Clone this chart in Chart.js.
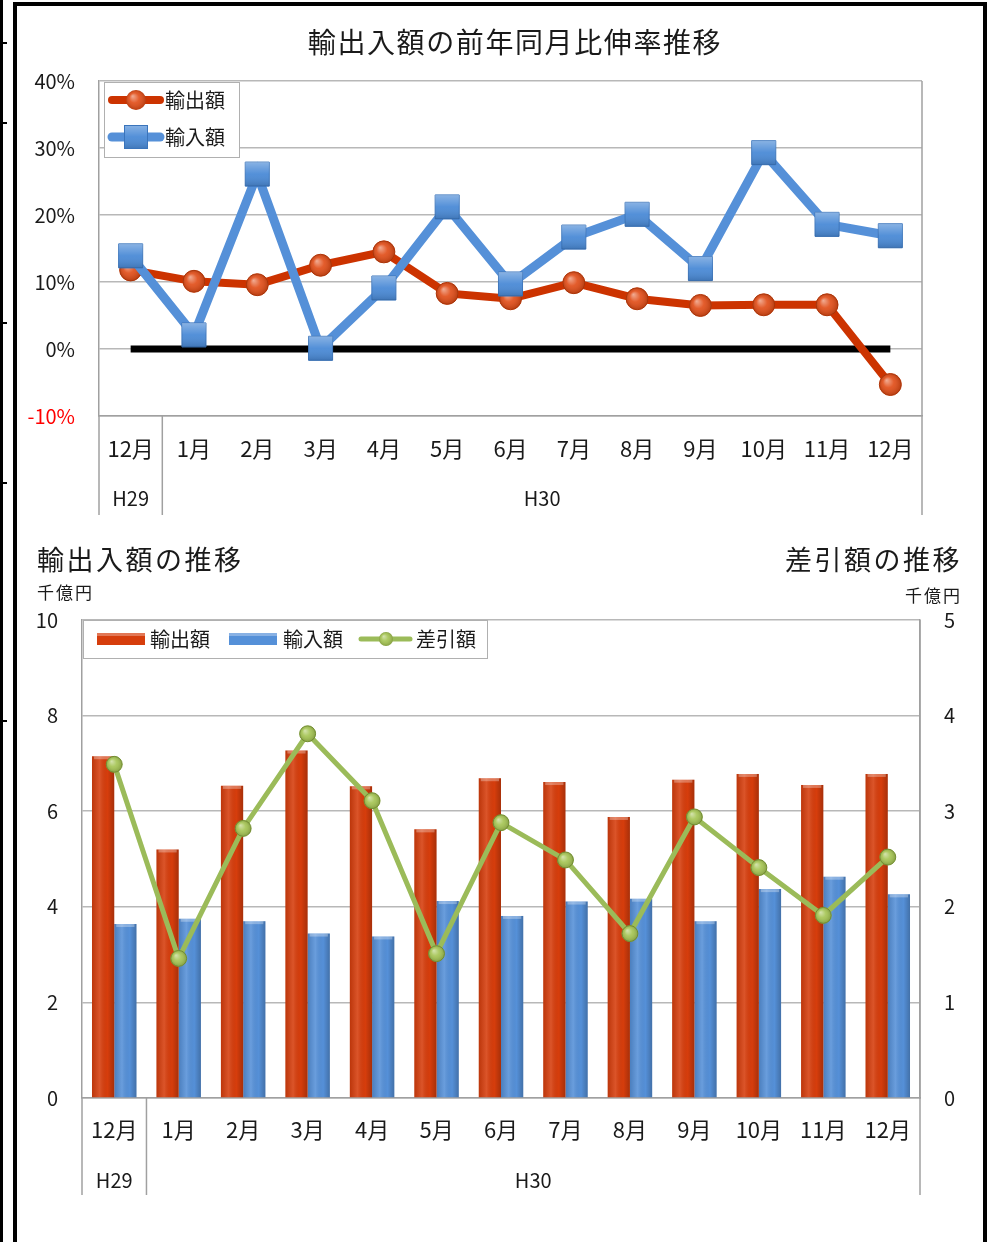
<!DOCTYPE html>
<html>
<head>
<meta charset="utf-8">
<script src="https://cdn.jsdelivr.net/npm/chart.js@4.4.1/dist/chart.umd.min.js"></script>
<style>
body{margin:0;background:#fff;width:993px;height:1242px;position:relative;overflow:hidden}
canvas{position:absolute;left:0}
#growthChart{top:0}
#amountChart{top:520px}
.bar{position:absolute;background:#000}
</style>
</head>
<body>
<canvas id="growthChart" width="993" height="520"></canvas>
<canvas id="amountChart" width="993" height="722"></canvas>

<div class="bar" style="left:0;top:0;width:3px;height:1242px"></div>
<div class="bar" style="left:0;top:42px;width:7px;height:2px"></div>
<div class="bar" style="left:0;top:122px;width:7px;height:2px"></div>
<div class="bar" style="left:0;top:322px;width:7px;height:2px"></div>
<div class="bar" style="left:0;top:482px;width:7px;height:2px"></div>
<div class="bar" style="left:0;top:720px;width:7px;height:2px"></div>
<div class="bar" style="left:13px;top:2px;width:4px;height:1240px"></div>
<div class="bar" style="left:13px;top:2px;width:974px;height:4px"></div>
<div class="bar" style="left:983px;top:2px;width:4px;height:1240px"></div>

<script>
// data
var months = ['12月','1月','2月','3月','4月','5月','6月','7月','8月','9月','10月','11月','12月'];
var groupLabels = ['H29','H30'];
var groupStarts = [0, 1];
var groupEnds = [0, 12];

// 前年同月比伸率 (%)
var exportGrowth = [11.8, 10.1, 9.6, 12.5, 14.5, 8.3, 7.5, 9.9, 7.5, 6.5, 6.6, 6.6, -5.3];
var importGrowth = [13.9, 2.1, 26.1, 0.1, 9.1, 21.2, 9.7, 16.7, 20.1, 12.0, 29.3, 18.6, 16.9];
var zeroLine = [0, 0, 0, 0, 0, 0, 0, 0, 0, 0, 0, 0, 0];

// 千億円
var exportAmount = [7.15, 5.20, 6.53, 7.27, 6.52, 5.62, 6.69, 6.61, 5.88, 6.66, 6.78, 6.55, 6.78];
var importAmount = [3.64, 3.75, 3.70, 3.44, 3.38, 4.12, 3.81, 4.11, 4.17, 3.70, 4.37, 4.63, 4.26];
var balanceAmount = [3.49, 1.46, 2.82, 3.81, 3.11, 1.51, 2.88, 2.49, 1.72, 2.94, 2.41, 1.91, 2.52];

var F = '"Noto Sans CJK JP", "Noto Sans", sans-serif';
Chart.defaults.font.family = F;
Chart.defaults.color = '#1a1a1a';

var RED = '#d63d0c', RED_LINE = '#cc3300', BLUE = '#5590d8', GREEN = '#9bbb59';

function seg(ctx, x1, y1, x2, y2){
	ctx.beginPath(); ctx.moveTo(x1, y1); ctx.lineTo(x2, y2); ctx.stroke();
}

// glossy look on circles, squares and bars, drawn right after each dataset
function shineCircle(ctx, x, y, r){
	var g = ctx.createRadialGradient(x - r * 0.35, y - r * 0.4, 0, x, y, r);
	g.addColorStop(0, 'rgba(255,255,255,0.55)');
	g.addColorStop(0.5, 'rgba(255,255,255,0.1)');
	g.addColorStop(1, 'rgba(0,0,0,0.18)');
	ctx.fillStyle = g;
	ctx.beginPath(); ctx.arc(x, y, r, 0, Math.PI * 2); ctx.fill();
}
function shineSquare(ctx, x, y, h){
	var g = ctx.createLinearGradient(x, y - h, x, y + h);
	g.addColorStop(0, 'rgba(255,255,255,0.35)');
	g.addColorStop(0.5, 'rgba(255,255,255,0.05)');
	g.addColorStop(1, 'rgba(0,0,0,0.15)');
	ctx.fillStyle = g;
	ctx.fillRect(x - h, y - h, 2 * h, 2 * h);
}
var shine = {
	id: 'shine',
	afterDatasetDraw: function(chart, args){
		var ctx = chart.ctx, meta = args.meta, ds = chart.data.datasets[args.index];
		ctx.save();
		meta.data.forEach(function(el){
			if (meta.type === 'bar') {
				var left = el.x - el.width / 2, w = el.width;
				var g = ctx.createLinearGradient(left, 0, left + w, 0);
				g.addColorStop(0, 'rgba(0,0,0,0.12)');
				g.addColorStop(0.35, 'rgba(255,255,255,0.12)');
				g.addColorStop(0.7, 'rgba(0,0,0,0)');
				g.addColorStop(1, 'rgba(0,0,0,0.22)');
				ctx.fillStyle = g;
				ctx.fillRect(left, el.y, w, el.base - el.y);
				ctx.fillStyle = 'rgba(255,255,255,0.3)';
				ctx.fillRect(left + 2, el.y, w - 4, 3);
			} else if (ds.pointRadius > 0) {
				if (ds.pointStyle === 'rect') shineSquare(ctx, el.x, el.y, ds.pointRadius * Math.SQRT1_2);
				else shineCircle(ctx, el.x, el.y, ds.pointRadius);
			}
		});
		ctx.restore();
	}
};

function groupDecor(chart, axisBottomEnd, groupY){
	var ctx = chart.ctx, a = chart.chartArea, x = chart.scales.x;
	ctx.strokeStyle = '#a0a0a0';
	ctx.lineWidth = 1.5;
	seg(ctx, a.left, a.bottom, a.left, axisBottomEnd);
	seg(ctx, a.right, a.top, a.right, axisBottomEnd);
	for (var i = 1; i < groupStarts.length; i++) {
		var xs = (x.getPixelForValue(groupStarts[i] - 1) + x.getPixelForValue(groupStarts[i])) / 2;
		seg(ctx, xs, a.bottom, xs, axisBottomEnd);
	}
	ctx.fillStyle = '#1a1a1a';
	ctx.font = '20px ' + F;
	ctx.textAlign = 'center';
	ctx.textBaseline = 'middle';
	for (var j = 0; j < groupLabels.length; j++) {
		var cx = (x.getPixelForValue(groupStarts[j]) + x.getPixelForValue(groupEnds[j])) / 2;
		ctx.fillText(groupLabels[j], cx, groupY);
	}
}

var growthDecor = {
	id: 'growthDecor',
	afterDraw: function(chart){
		var ctx = chart.ctx;
		ctx.save();
		groupDecor(chart, 515, 498);

		ctx.font = '28px ' + F;
		ctx.letterSpacing = '1.6px';
		ctx.textAlign = 'center';
		ctx.fillText('輸出入額の前年同月比伸率推移', 515, 42);
		ctx.letterSpacing = '0px';

		// legend
		ctx.fillStyle = '#fff';
		ctx.fillRect(104, 82, 135, 75);
		ctx.strokeStyle = '#b0b0b0';
		ctx.lineWidth = 1;
		ctx.strokeRect(104.5, 82.5, 135, 75);

		ctx.lineCap = 'round';
		ctx.strokeStyle = RED_LINE; ctx.lineWidth = 8;
		seg(ctx, 112, 100, 160, 100);
		ctx.fillStyle = '#e04a14';
		ctx.beginPath(); ctx.arc(136, 100, 10, 0, Math.PI * 2); ctx.fill();
		shineCircle(ctx, 136, 100, 10);

		ctx.strokeStyle = BLUE; ctx.lineWidth = 9;
		seg(ctx, 112, 137, 160, 137);
		ctx.fillStyle = '#4a8ad6';
		ctx.fillRect(124, 125, 24, 24);
		shineSquare(ctx, 136, 137, 12);
		ctx.strokeStyle = '#3a74bb'; ctx.lineWidth = 1;
		ctx.strokeRect(124.5, 125.5, 23, 23);

		ctx.fillStyle = '#1a1a1a';
		ctx.font = '20px ' + F;
		ctx.textAlign = 'left';
		ctx.fillText('輸出額', 165, 100);
		ctx.fillText('輸入額', 165, 137);
		ctx.restore();
	}
};

new Chart(document.getElementById('growthChart'), {
	type: 'line',
	data: {
		labels: months,
		datasets: [
			{
				label: '輸入額',
				data: importGrowth,
				borderColor: BLUE,
				borderWidth: 9,
				pointStyle: 'rect',
				pointRadius: 17,
				pointBackgroundColor: '#4a8ad6',
				pointBorderColor: '#3a74bb',
				pointBorderWidth: 1,
				order: 1
			},
			{
				label: '輸出額',
				data: exportGrowth,
				borderColor: RED_LINE,
				borderWidth: 8,
				pointStyle: 'circle',
				pointRadius: 11,
				pointBackgroundColor: '#e04a14',
				pointBorderColor: '#c03a08',
				pointBorderWidth: 1,
				order: 2
			},
			{
				label: '0',
				data: zeroLine,
				borderColor: '#000',
				borderWidth: 7,
				pointRadius: 0,
				order: 3
			}
		]
	},
	options: {
		responsive: false,
		animation: false,
		devicePixelRatio: 1,
		layout: {autoPadding: false, padding: {top: 81, right: 71, left: 0, bottom: 0}},
		plugins: {legend: {display: false}, tooltip: {enabled: false}},
		elements: {line: {tension: 0}},
		scales: {
			x: {
				offset: true,
				grid: {display: false},
				border: {color: '#a0a0a0', width: 1.5},
				ticks: {font: {size: 22}, padding: 11, maxRotation: 0, autoSkip: false},
				afterFit: function(s){ s.height = 104; }
			},
			y: {
				min: -10, max: 40,
				ticks: {
					stepSize: 10, font: {size: 20}, padding: 24,
					callback: function(v){ return v + '%'; },
					color: function(c){ return c.tick.value < 0 ? '#ff0000' : '#1a1a1a'; }
				},
				grid: {color: '#b8b8b8', lineWidth: 1.5, drawTicks: false},
				border: {color: '#a0a0a0', width: 1.5},
				afterFit: function(s){ s.width = 99; }
			}
		}
	},
	plugins: [shine, growthDecor]
});

var amountDecor = {
	id: 'amountDecor',
	afterDraw: function(chart){
		var ctx = chart.ctx;
		ctx.save();
		groupDecor(chart, 675, 660);

		ctx.fillStyle = '#1a1a1a';
		ctx.textBaseline = 'middle';
		ctx.font = '27px ' + F;
		ctx.letterSpacing = '2.5px';
		ctx.textAlign = 'left';
		ctx.fillText('輸出入額の推移', 37, 40);
		ctx.textAlign = 'right';
		ctx.fillText('差引額の推移', 962, 40);
		ctx.font = '17px ' + F;
		ctx.letterSpacing = '2px';
		ctx.textAlign = 'left';
		ctx.fillText('千億円', 37, 73);
		ctx.textAlign = 'right';
		ctx.fillText('千億円', 962, 76);
		ctx.letterSpacing = '0px';

		// legend
		ctx.fillStyle = '#fff';
		ctx.fillRect(83, 100, 404, 38);
		ctx.strokeStyle = '#b0b0b0'; ctx.lineWidth = 1;
		ctx.strokeRect(83.5, 100.5, 404, 38);

		ctx.fillStyle = RED;
		ctx.fillRect(97, 113, 48, 12);
		ctx.fillStyle = BLUE;
		ctx.fillRect(229, 113, 48, 12);
		ctx.fillStyle = 'rgba(255,255,255,0.3)';
		ctx.fillRect(97, 113, 48, 3);
		ctx.fillRect(229, 113, 48, 3);
		ctx.strokeStyle = GREEN; ctx.lineWidth = 5; ctx.lineCap = 'round';
		seg(ctx, 361, 119, 410, 119);
		ctx.fillStyle = '#a3c350';
		ctx.beginPath(); ctx.arc(386, 119, 7, 0, Math.PI * 2); ctx.fill();
		shineCircle(ctx, 386, 119, 7);

		ctx.fillStyle = '#1a1a1a';
		ctx.font = '20px ' + F;
		ctx.textAlign = 'left';
		ctx.fillText('輸出額', 150, 119);
		ctx.fillText('輸入額', 283, 119);
		ctx.fillText('差引額', 416, 119);
		ctx.restore();
	}
};

new Chart(document.getElementById('amountChart'), {
	type: 'bar',
	data: {
		labels: months,
		datasets: [
			{
				type: 'line',
				label: '差引額',
				data: balanceAmount,
				yAxisID: 'y1',
				borderColor: GREEN,
				borderWidth: 5,
				tension: 0,
				pointRadius: 8,
				pointBackgroundColor: '#a3c350',
				pointBorderColor: '#7d9b36',
				pointBorderWidth: 1,
				order: 1
			},
			{
				label: '輸出額',
				data: exportAmount,
				yAxisID: 'y',
				backgroundColor: RED,
				categoryPercentage: 0.69,
				barPercentage: 1.0,
				order: 2
			},
			{
				label: '輸入額',
				data: importAmount,
				yAxisID: 'y',
				backgroundColor: BLUE,
				categoryPercentage: 0.69,
				barPercentage: 1.0,
				order: 2
			}
		]
	},
	options: {
		responsive: false,
		animation: false,
		devicePixelRatio: 1,
		layout: {autoPadding: false, padding: {top: 100, right: 0, left: 0, bottom: 0}},
		plugins: {legend: {display: false}, tooltip: {enabled: false}},
		scales: {
			x: {
				grid: {display: false},
				border: {color: '#a0a0a0', width: 1.5},
				ticks: {font: {size: 22}, padding: 10, maxRotation: 0, autoSkip: false},
				afterFit: function(s){ s.height = 144; }
			},
			y: {
				position: 'left',
				min: 0, max: 10,
				ticks: {stepSize: 2, font: {size: 20}, padding: 24},
				grid: {color: '#b8b8b8', lineWidth: 1.5, drawTicks: false},
				border: {color: '#a0a0a0', width: 1.5},
				afterFit: function(s){ s.width = 82; }
			},
			y1: {
				position: 'right',
				min: 0, max: 5,
				ticks: {stepSize: 1, font: {size: 20}, padding: 24},
				grid: {display: false, drawTicks: false},
				border: {color: '#a0a0a0', width: 1.5},
				afterFit: function(s){ s.width = 73; }
			}
		}
	},
	plugins: [shine, amountDecor]
});
</script>
</body>
</html>
